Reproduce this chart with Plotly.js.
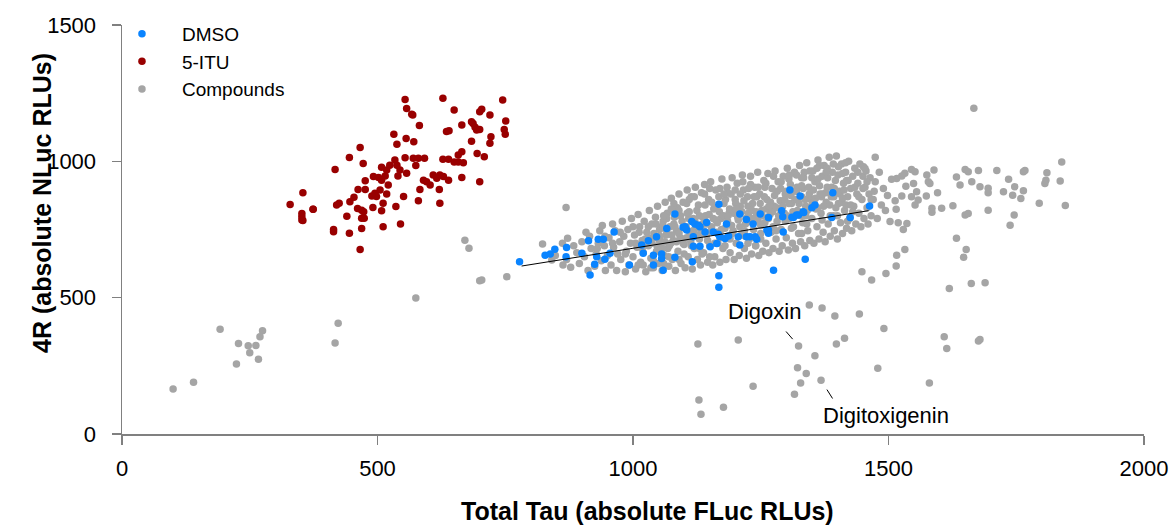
<!DOCTYPE html>
<html><head><meta charset="utf-8">
<script src="https://cdn.plot.ly/plotly-3.0.1.min.js"></script>
<style>html,body{margin:0;padding:0;background:#fff}#chart{width:1171px;height:527px}</style>
</head><body><div id="chart"></div>
<script>
// ---- Tick labels / axis text ----
const xTickVals = [0, 500, 1000, 1500, 2000];
const yTickVals = [0, 500, 1000, 1500];
const xTitle = 'Total Tau (absolute FLuc RLUs)';
const yTitle = '4R (absolute NLuc RLUs)';
const seriesNames = ['DMSO', '5-ITU', 'Compounds'];

// ---- DMSO (blue) ----
const dmsoX = [778,828,838,847,870,869,900,913,932,942,929,945,925,916,955,963,993,1017,1020,1030,
  1040,1040,1056,1056,1046,1066,1059,1082,1082,1098,1105,1115,1121,1131,1144,1118,1131,1118,1151,1157,
  1167,1170,1183,1180,1187,1206,1209,1209,1222,1222,1235,1239,1242,1168,1116,1168,1168,1249,1265,1265,
  1265,1275,1291,1293,1294,1307,1314,1324,1333,1350,1356,1327,1337,1391,1389,1425,1463,1102,1128,1141,
  1164,1229,1311,1320,1334,1262];
const dmsoY = [632,656,660,678,684,650,663,709,714,714,650,641,623,583,663,741,620,693,663,709,
  656,620,660,644,723,754,601,807,648,758,748,779,770,760,776,723,689,689,687,741,
  733,723,770,717,726,723,693,807,787,723,770,723,714,843,632,580,538,807,794,748,
  736,601,819,797,741,895,794,803,815,830,840,873,641,885,794,794,836,760,766,741,
  699,723,795,803,812,748];

// ---- 5-ITU (dark red) ----
const ituX = [554,628,745,557,567,569,650,704,700,720,751,748,750,582,665,684,687,691,694,700,
  635,640,532,556,538,571,722,720,684,466,445,472,417,534,554,570,580,592,575,628,
  639,650,658,665,668,658,695,709,524,508,518,538,544,557,492,502,515,508,521,540,
  476,462,476,489,495,505,498,518,551,590,596,603,609,616,622,629,639,583,580,621,
  622,665,700,420,425,446,454,461,469,473,491,508,511,536,440,469,474,414,414,445,
  469,511,545,466,354,374,352,354,329,352,352,374];
const ituY = [1227,1231,1225,1194,1173,1170,1188,1191,1182,1170,1148,1117,1099,1131,1133,1145,1139,1125,1115,1117,
  1109,1112,1099,1084,1063,1072,1090,1066,1074,1051,1014,992,970,1005,1013,1011,1011,1011,985,1008,
  1008,998,1023,1035,995,998,1029,1017,986,978,968,986,968,956,944,941,946,931,913,946,
  929,897,897,873,883,895,871,880,871,931,925,913,950,938,950,944,931,897,855,897,
  846,941,925,840,846,852,868,827,821,815,831,819,846,834,799,791,791,750,742,736,
  754,760,770,677,885,824,797,783,842,809,785,824];

// ---- Compounds (gray): main cloud ----
const cloudX = [
  848,862,870,878,884,890,872,895,900,905,912,918,915,908,
  925,928,932,935,938,940,944,946,
  950,953,957,960,962,965,968,970,
  974,976,979,982,985,987,990,992,995,997,
  1000,1003,1005,1008,1010,1013,1015,1018,1020,1022,
  1025,1027,1030,1032,1035,1037,1040,1042,1044,1046,
  1048,1050,1052,1055,1057,1059,1061,1063,1065,1067,
  1068,1070,1072,1075,1077,1079,1081,1083,1085,1087,
  1088,1090,1092,1094,1096,1098,1100,1102,1104,1106,
  1108,1110,1112,1114,1116,1118,1120,1122,1124,1126,
  1128,1130,1132,1134,1136,1138,1140,1142,1144,1146,
  1148,1150,1152,1154,1156,1158,1160,1162,1164,1166,
  1168,1170,1172,1174,1176,1178,1180,1182,1184,1186,
  1188,1190,1192,1194,1196,1198,1200,1202,1204,1206,
  1208,1210,1212,1214,1216,1218,1220,1222,1224,1226,
  1228,1230,1232,1234,1236,1238,1240,1242,1244,1246,
  1248,1250,1252,1254,1256,1258,1260,1262,1264,1266,
  1268,1270,1272,1274,1276,1278,1280,1282,1284,1286,
  1288,1290,1292,1294,1296,1298,1300,1302,1304,1306,
  1308,1310,1312,1314,1316,1318,1320,1322,1324,1326,
  1328,1330,1332,1334,1336,1338,1340,1342,1344,1346,
  1348,1350,1352,1354,1356,1358,1360,1362,1364,1366,
  1368,1370,1372,1374,1376,1378,1380,1382,1384,1386,
  1388,1390,1392,1394,1396,1398,1400,1402,1404,1406,
  1408,1410,1412,1414,1416,1418,1420,1422,1424,1426,
  1428,1430,1432,1434,1436,1438,1440,1442,1444,1446,
  1448,1450,1452,1454,1456,1458,1460,1462,1464,1466,
  1470,1474,1478,1482,1486,1490,1494,1498,
  1005,1012,1018,1024,1030,1036,1041,1047,1053,1058,
  1062,1066,1071,1076,1080,1085,1089,1093,1097,1101,
  1105,1109,1113,1117,1121,1125,1129,1133,1137,1141,
  1145,1149,1153,1157,1161,1165,1169,1173,1177,1181,
  1185,1189,1193,1197,1201,1205,1209,1213,1217,1221,
  1225,1229,1233,1237,1241,1245,1249,1253,1257,1261,
  1265,1269,1273,1277,1281,1285,1289,1293,1297,1301,
  1305,1309,1313,1317,1321,1325,1329,1333,1337,1341,
  1345,1349,1353,1357,1361,1365,1369,1373,1377,1381,
  1385,1389,1393,1397,1401,1405,1409,1413,1417,1421,
  1010,1040,1070,1100,1130,1160,1190,1220,1250,1280,
  1310,1340,1370,1400,1430,1060,1150,1240,1330,1420,
  1080,1110,1140,1170,1200,1230,1260,1290,1320,1350,
  1380,1410,1150,1185,1215,1245,1275,1305,1335,1365,
  1050,1058,1066,1074,1082,1090,1098,1106,1114,1122,
  1130,1138,1146,1154,1162,1170,1178,1186,1194,1202,
  1210,1218,1226,1234,1242,1250,1258,1266,1274,1282,
  1290,1298,1306,1314,1322,1330,1338,1346,1354,1362,
  1370,1378,1386,1394,1402,1410,1418,1426,1434,1442,
  1450,1458,1466,1472,1440,1416,1392,1360,1330,1300,
  985,1000,1015,1030,1045,1060,1075,1090,1105,1120,
  960,945,930,975,1020,1035,1090,1135,1180,1225];
const cloudY = [
  655,700,640,612,690,665,718,625,705,650,600,680,725,740,
  615,660,700,745,635,765,690,600,
  655,720,620,770,685,745,600,660,
  705,640,780,725,595,670,750,620,700,790,
  650,730,605,685,805,760,630,710,665,780,
  595,740,690,820,645,770,610,720,795,670,
  835,625,750,700,600,780,655,850,730,810,
  680,615,760,865,640,710,795,600,745,830,
  670,880,720,625,780,850,695,610,760,895,
  650,815,735,870,605,790,680,905,755,640,
  840,715,620,885,770,665,915,800,730,630,
  860,690,925,760,620,825,650,895,740,700,
  870,630,790,935,680,845,755,640,905,720,
  810,665,880,940,745,640,860,700,920,785,
  655,835,730,950,895,680,770,645,870,810,
  715,945,660,845,750,905,690,800,960,655,
  880,735,820,670,930,775,700,860,955,665,
  805,740,900,680,835,965,715,780,925,670,
  855,750,690,945,810,880,720,975,675,790,
  915,845,700,760,960,680,890,820,735,985,
  705,870,775,940,690,835,995,745,905,710,
  860,790,965,700,925,825,760,1005,715,880,
  810,945,740,985,705,850,905,770,1015,725,
  870,960,800,745,930,1020,715,845,890,775,
  990,735,920,820,960,755,870,1000,790,900,
  745,945,835,975,770,880,920,810,990,760,
  860,945,790,905,965,830,770,880,940,800,
  860,925,790,960,840,900,820,875,
  700,740,680,715,760,700,735,690,725,765,
  705,745,690,730,770,705,740,800,715,755,
  720,790,705,745,780,820,760,735,795,840,
  770,805,745,790,830,775,815,750,800,860,
  780,825,765,810,845,795,760,815,855,790,
  835,780,820,870,815,780,845,800,870,825,
  790,850,815,875,830,800,900,835,860,800,
  845,875,815,860,905,845,800,900,860,820,
  880,835,895,865,830,910,870,835,885,940,
  840,905,870,830,950,880,850,895,840,930,
  620,635,650,660,680,700,715,725,715,745,
  755,770,785,800,815,625,650,690,735,780,
  845,860,880,900,895,915,920,925,950,940,
  975,955,900,885,925,905,945,935,960,985,
  715,680,790,700,760,735,700,810,690,730,
  800,745,710,850,785,720,880,800,735,825,
  880,745,900,790,870,765,905,835,760,890,
  815,780,950,890,860,940,800,965,850,935,
  880,960,800,900,980,865,930,840,905,870,
  900,925,860,890,960,995,990,975,910,890,
  660,760,690,720,770,800,825,820,845,870,
  700,725,680,740,620,610,640,660,690,700];

// ---- Compounds (gray): scattered outliers ----
const scatterX = [823,869,841,863,753,704,671,679,
  1474,1451,1454,1545,1552,1532,1526,1516,1506,1575,1578,1581,1589,1633,1650,1656,1676,1712,1735,1764,1767,
  1640,1663,1679,1695,1695,1725,1743,1747,1759,1764,1549,1555,1545,1558,1552,1574,1534,1526,1513,1515,
  1596,1585,1585,1604,1626,1650,1656,1695,1503,1519,1536,1529,1746,1738,1633,1652,1647,1532,1516,1515,
  1448,1467,1495,1619,1662,1689,1443,1491,1609,1679,1839,1810,1808,1806,1836,1795,1846,1667,
  1345,1370,1395,1127,1206,1324,1356,1398,1414,1322,1339,1479,1328,1368,1316,1235,1129,1133,1177,1614,1580,1676,
  100,140,192,228,247,262,250,275,270,224,267,423,417,575,700];
const scatterY = [697,831,638,620,577,565,711,681,
  1015,980,974,970,962,956,946,937,934,950,925,919,968,943,970,962,966,966,934,962,966,
  913,925,907,901,885,888,876,907,864,892,919,888,870,858,840,873,909,873,855,824,
  885,828,813,828,837,803,809,821,779,775,772,750,803,766,718,677,648,677,656,616,
  595,565,589,534,552,555,440,387,357,347,998,958,931,919,928,846,838,1195,
  473,462,433,330,345,323,287,330,351,243,222,241,187,197,146,175,125,72,98,314,187,341,
  165,190,384,332,324,325,298,379,357,257,274,406,334,499,562];

// ---- Fit line through DMSO ----
const fitX = [782, 1461];
const fitY = [616, 819];

// ---- Labelled compounds ----
const labelNames = ['Digoxin', 'Digitoxigenin'];
const labelX = [1324, 1368];
const labelY = [323, 197];

const compX = cloudX.concat(scatterX);
const compY = cloudY.concat(scatterY);

const traces = [
  {type:'scatter', mode:'markers', name:seriesNames[2], x:compX, y:compY,
   marker:{color:'#a5a5a5', size:7.5}, cliponaxis:false},
  {type:'scatter', mode:'markers', name:seriesNames[1], x:ituX, y:ituY,
   marker:{color:'#990000', size:7.5}, cliponaxis:false},
  {type:'scatter', mode:'markers', name:seriesNames[0], x:dmsoX, y:dmsoY,
   marker:{color:'#0a84ff', size:7.5}, cliponaxis:false},
  {type:'scatter', mode:'lines', x:fitX, y:fitY, showlegend:false,
   line:{color:'#000', width:1}, hoverinfo:'skip'}
];

const textOffsets = [[-34, 34], [65, -35]];
const arrowOffsets = [[-13, -15], [12, 19]];
const arrowStandoff = [9, 11];

const annotations = [];
labelNames.forEach((n, i) => {
  annotations.push({x:labelX[i], y:labelY[i], xref:'x', yref:'y', text:n, showarrow:false,
    xshift:textOffsets[i][0], yshift:textOffsets[i][1], xanchor:'center', yanchor:'middle',
    font:{size:22, color:'#000'}});
  annotations.push({x:labelX[i], y:labelY[i], xref:'x', yref:'y', text:' ', showarrow:true,
    ax:arrowOffsets[i][0], ay:arrowOffsets[i][1], arrowhead:0, arrowwidth:1, arrowcolor:'#000',
    standoff:arrowStandoff[i], font:{size:1}, borderpad:0});
});
// axis titles (placed as in the reference)
annotations.push({xref:'paper', yref:'paper', x:0.5137, y:-0.2245, xanchor:'center', yanchor:'bottom',
  text:'<b>'+xTitle+'</b>', showarrow:false, font:{size:25, color:'#000'}, borderpad:0});
annotations.push({xref:'paper', yref:'paper', x:-0.0783, y:0.5648, xanchor:'center', yanchor:'middle',
  text:'<b>'+yTitle+'</b>', showarrow:false, textangle:-90, font:{size:25, color:'#000'}});

const axisCommon = {showgrid:false, zeroline:false, showline:true, linecolor:'#808080', linewidth:1.5,
  ticks:'outside', ticklen:9, tickwidth:1.5, tickcolor:'#808080', tickfont:{size:22, color:'#000'},
  automargin:false};

const layout = {
  width:1171, height:527,
  margin:{l:122, r:27, t:25, b:93},
  paper_bgcolor:'#fff', plot_bgcolor:'#fff',
  font:{family:'"Liberation Sans", Arial, sans-serif', color:'#000', size:21},
  showlegend:true,
  legend:{x:-0.0196, y:1.025, xanchor:'left', yanchor:'top', traceorder:'reversed', itemwidth:70,
    font:{size:19, color:'#000'}, bgcolor:'rgba(0,0,0,0)'},
  xaxis:Object.assign({}, axisCommon, {range:[0,2000], tickvals:xTickVals, ticklabelstandoff:5}),
  yaxis:Object.assign({}, axisCommon, {range:[0,1500], tickvals:yTickVals, ticklabelstandoff:11}),
  annotations:annotations
};

Plotly.newPlot('chart', traces, layout, {displayModeBar:false, staticPlot:true});
</script></body></html>
